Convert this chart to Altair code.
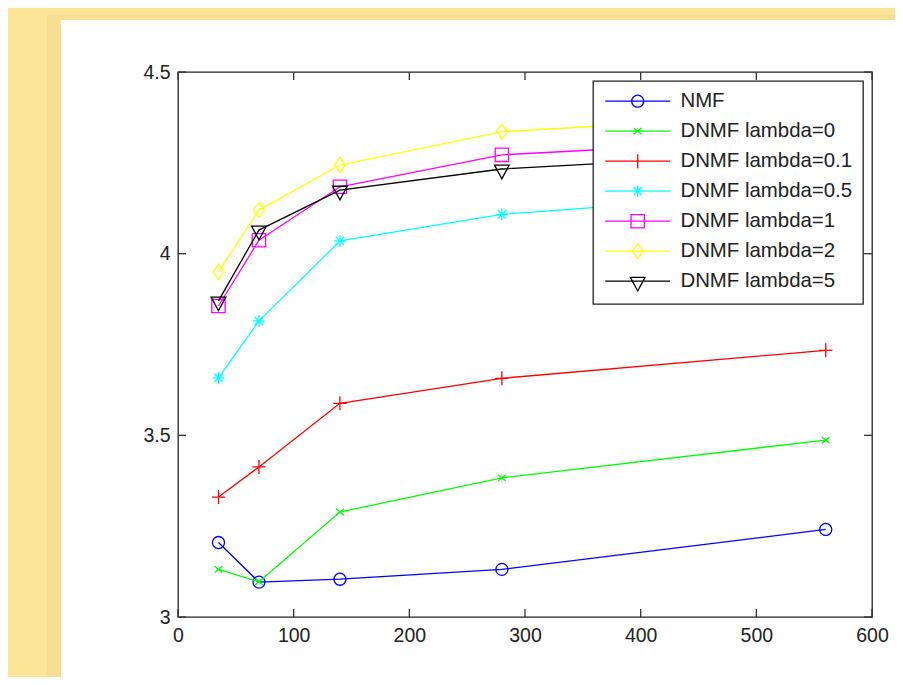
import re
import altair as alt
import pandas as pd

# ---------------- data ----------------
x_vals = [35, 70, 140, 280, 560]
series_names = ["NMF", "DNMF lambda=0", "DNMF lambda=0.1", "DNMF lambda=0.5",
                "DNMF lambda=1", "DNMF lambda=2", "DNMF lambda=5"]
nmf = [3.205, 3.096, 3.104, 3.131, 3.241]
dnmf_0 = [3.131, 3.097, 3.289, 3.383, 3.487]
dnmf_01 = [3.330, 3.413, 3.588, 3.657, 3.734]
dnmf_05 = [3.658, 3.815, 4.035, 4.108, 4.174]
dnmf_1 = [3.856, 4.037, 4.184, 4.272, 4.319]
dnmf_2 = [3.950, 4.120, 4.244, 4.336, 4.385]
dnmf_5 = [3.870, 4.065, 4.175, 4.233, 4.282]
series_values = [nmf, dnmf_0, dnmf_01, dnmf_05, dnmf_1, dnmf_2, dnmf_5]

x_ticks = [0, 100, 200, 300, 400, 500, 600]
y_ticks = [3, 3.5, 4, 4.5]

colors = ["#0000FF", "#00FF00", "#FF0000", "#00FFFF", "#FF00FF", "#FFFF00", "#000000"]

# ---------------- styles ----------------
FONT = "Liberation Sans"
TXT = "#222222"
W, H = 694, 545
PAD = {"left": 170, "top": 64, "right": 23, "bottom": 60}
TICK = 8
LW = 1.3
MSIZE = 196  # 14 px box for marker paths in [-1, 1]


def circle_path(r):
    return f"M{r:.4f},0A{r:.4f},{r:.4f},0,1,1,{-r:.4f},0A{r:.4f},{r:.4f},0,1,1,{r:.4f},0Z"


def scale_path(p, s):
    return re.sub(r"-?\d+\.?\d*", lambda m: f"{float(m.group()) * s:.4f}", p)


poly_markers = {
    "x": "M-0.55,-0.45L0.55,0.45M-0.55,0.45L0.55,-0.45",
    "plus": "M-0.95,0L0.95,0M0,-1L0,1",
    "star": "M-0.85,0L0.85,0M0,-0.85L0,0.85M-0.6,-0.6L0.6,0.6M-0.6,0.6L0.6,-0.6",
    "square": "M-0.95,-0.95L0.95,-0.95L0.95,0.95L-0.95,0.95Z",
    "diamond": "M0,-1.05L0.8,0L0,1.05L-0.8,0Z",
    "tri": "M-1.05,-0.55L1.05,-0.55L0,1.4Z",
}
marker_kinds = ["circle", "x", "plus", "star", "square", "diamond", "tri"]


def marker(kind, s=1.0):
    if kind == "circle":
        return circle_path(0.86 * s)
    return scale_path(poly_markers[kind], s)


plot_paths = [marker(kd) for kd in marker_kinds]
# legend symbol: 65 px line with the marker in its middle (units of 7 px)
HALF = 32.5 / 7.0
legend_paths = [f"M{-HALF:.4f},0L{HALF:.4f},0" + marker(kd) for kd in marker_kinds]

# ---------------- tables ----------------
rows = []
for name, vals in zip(series_names, series_values):
    for xv, yv in zip(x_vals, vals):
        rows.append({"series": name, "x": xv, "y": yv})
df = pd.DataFrame(rows)
xt = pd.DataFrame({"v": x_ticks})
yt = pd.DataFrame({"v": y_ticks})
one = pd.DataFrame({"a": [0]})

xscale = alt.Scale(domain=[0, 600], nice=False, zero=False)
yscale = alt.Scale(domain=[3, 4.5], nice=False, zero=False)
cscale = alt.Scale(domain=series_names, range=colors)

x_axis = alt.Axis(values=x_ticks, title=None, grid=False, domain=False, ticks=False,
                  tickSize=0, labelPadding=9, labelFont=FONT, labelFontSize=19.5,
                  labelColor=TXT, labelOverlap=False, labelFlush=False,
                  labelExpr="'' + datum.value")
y_axis = alt.Axis(values=y_ticks, title=None, grid=False, domain=False, ticks=False,
                  tickSize=0, labelPadding=8, labelFont=FONT, labelFontSize=19.5,
                  labelColor=TXT, labelOverlap=False, labelFlush=False,
                  labelExpr="'' + datum.value")

# background decoration (yellow page strips outside the white card)
BG = "#FDE598"
SHADE = "#F8DE92"
strip_left = alt.Chart(one).mark_rect(color=BG).encode(
    x=alt.value(-PAD["left"]), x2=alt.value(-117),
    y=alt.value(-PAD["top"]), y2=alt.value(H + PAD["bottom"]))
strip_top = alt.Chart(one).mark_rect(color=BG).encode(
    x=alt.value(-PAD["left"]), x2=alt.value(W + PAD["right"]),
    y=alt.value(-PAD["top"]), y2=alt.value(-52))
shade_left = alt.Chart(one).mark_rect(color=SHADE).encode(
    x=alt.value(-131), x2=alt.value(-117),
    y=alt.value(-52), y2=alt.value(H + PAD["bottom"]))
shade_top = alt.Chart(one).mark_rect(color=SHADE).encode(
    x=alt.value(-131), x2=alt.value(W + PAD["right"]),
    y=alt.value(-57), y2=alt.value(-52))

series_layers = []
for i, (name, col, path) in enumerate(zip(series_names, colors, plot_paths)):
    base = alt.Chart(df).transform_filter(alt.datum.series == name)
    if i == 0:
        enc_x = alt.X("x:Q", scale=xscale, axis=x_axis)
        enc_y = alt.Y("y:Q", scale=yscale, axis=y_axis)
    else:
        enc_x = alt.X("x:Q")
        enc_y = alt.Y("y:Q")
    series_layers.append(
        base.mark_line(strokeWidth=LW, color=col).encode(x=enc_x, y=enc_y, order=alt.Order("x:Q"))
    )
    series_layers.append(
        base.mark_point(shape=path, size=MSIZE, filled=False, opacity=1,
                        strokeWidth=LW, color=col).encode(x="x:Q", y="y:Q")
    )

legend = alt.Legend(title=None, orient="top-right", offset=9, padding=10,
                    fillColor="white", strokeColor=TXT, labelFont=FONT,
                    labelFontSize=20.4, labelColor=TXT,
                    symbolSize=MSIZE, symbolStrokeWidth=LW,
                    symbolOffset=24.5, labelOffset=32.5,
                    rowPadding=9, labelLimit=400)

legend_layer = alt.Chart(df).transform_filter("false").mark_point(
    filled=False, opacity=1, strokeWidth=LW
).encode(
    x="x:Q", y="y:Q",
    color=alt.Color("series:N", scale=cscale, legend=legend),
    shape=alt.Shape("series:N", scale=alt.Scale(domain=series_names, range=legend_paths),
                    legend=legend),
)

tick_color = "#333333"
ticks_bottom = alt.Chart(xt).mark_rule(color=tick_color, strokeWidth=LW).encode(
    x=alt.X("v:Q"), y=alt.value(H), y2=alt.value(H - TICK))
ticks_top = alt.Chart(xt).mark_rule(color=tick_color, strokeWidth=LW).encode(
    x=alt.X("v:Q"), y=alt.value(0), y2=alt.value(TICK))
ticks_left = alt.Chart(yt).mark_rule(color=tick_color, strokeWidth=LW).encode(
    y=alt.Y("v:Q"), x=alt.value(0), x2=alt.value(TICK))
ticks_right = alt.Chart(yt).mark_rule(color=tick_color, strokeWidth=LW).encode(
    y=alt.Y("v:Q"), x=alt.value(W), x2=alt.value(W - TICK))

chart = alt.layer(
    strip_left, strip_top, shade_left, shade_top,
    *series_layers, ticks_bottom, ticks_top, ticks_left, ticks_right,
    legend_layer,
).properties(
    width=W, height=H,
    autosize=alt.AutoSizeParams(type="none"),
    padding=PAD,
    background="white",
).configure_view(
    stroke="#222222", strokeWidth=LW
).configure_legend(
    strokeWidth=LW
)

chart.save("out.html", embed_options={"renderer": "svg", "actions": False})
